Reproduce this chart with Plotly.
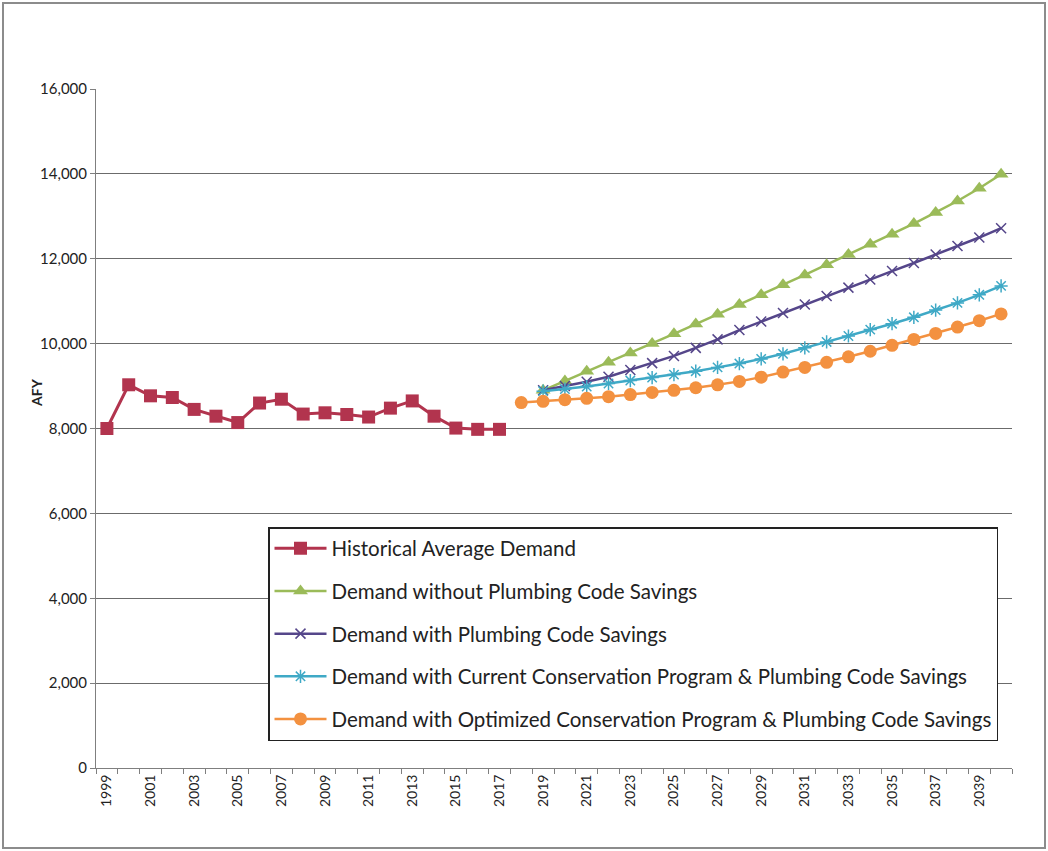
import plotly.graph_objects as go

# ---- data ----
hist_years = [1999, 2000, 2001, 2002, 2003, 2004, 2005, 2006, 2007, 2008,
              2009, 2010, 2011, 2012, 2013, 2014, 2015, 2016, 2017]
hist_vals = [8000, 9030, 8770, 8730, 8450, 8290, 8140, 8600, 8690, 8340,
             8370, 8330, 8270, 8480, 8650, 8290, 8010, 7980, 7980]

proj_years = [2019, 2020, 2021, 2022, 2023, 2024, 2025, 2026, 2027, 2028, 2029,
              2030, 2031, 2032, 2033, 2034, 2035, 2036, 2037, 2038, 2039, 2040]
no_plumbing = [8900, 9120, 9350, 9560, 9780, 10000, 10230, 10460, 10690, 10920, 11150,
               11390, 11620, 11860, 12100, 12340, 12580, 12830, 13090, 13360, 13660, 13990]
with_plumbing = [8900, 9000, 9100, 9220, 9380, 9540, 9710, 9900, 10100, 10320, 10520,
                 10720, 10920, 11120, 11320, 11510, 11710, 11900, 12100, 12300, 12500, 12720]
current_cons = [8880, 8930, 8990, 9060, 9130, 9200, 9270, 9350, 9440, 9530, 9640,
                9760, 9900, 10040, 10180, 10330, 10470, 10620, 10790, 10960, 11150, 11360]

opt_years = [2018, 2019, 2020, 2021, 2022, 2023, 2024, 2025, 2026, 2027, 2028, 2029,
             2030, 2031, 2032, 2033, 2034, 2035, 2036, 2037, 2038, 2039, 2040]
optimized = [8610, 8640, 8680, 8710, 8750, 8800, 8850, 8900, 8960, 9030, 9110, 9210,
             9330, 9440, 9560, 9690, 9820, 9960, 10100, 10240, 10390, 10540, 10700]

tick_years = list(range(1999, 2040, 2))
tick_labels = [str(y) for y in tick_years]
minor_ticks = [y + 0.5 for y in range(1998, 2041)]

names = ["Historical Average Demand",
         "Demand without Plumbing Code Savings",
         "Demand with Plumbing Code Savings",
         "Demand with Current Conservation Program & Plumbing Code Savings",
         "Demand with Optimized Conservation Program & Plumbing Code Savings"]

c_hist = "#B2344E"
c_green = "#9BBB59"
c_purple = "#55468A"
c_teal = "#3FA9C6"
c_orange = "#F39140"

fig = go.Figure()
fig.add_trace(go.Scatter(x=hist_years, y=hist_vals, name=names[0], legendgroup="a",
                         mode="lines+markers", line=dict(color=c_hist, width=3),
                         marker=dict(symbol="square", size=13, color=c_hist)))
fig.add_trace(go.Scatter(x=proj_years, y=no_plumbing, name=names[1], legendgroup="b",
                         mode="lines+markers", line=dict(color=c_green, width=2.5),
                         marker=dict(symbol="triangle-up", size=13, color=c_green)))
fig.add_trace(go.Scatter(x=proj_years, y=with_plumbing, name=names[2], legendgroup="c",
                         mode="lines+markers", line=dict(color=c_purple, width=2.5),
                         marker=dict(symbol="x-thin-open", size=10, color=c_purple,
                                     line=dict(color=c_purple, width=1.5))))
fig.add_trace(go.Scatter(x=proj_years, y=current_cons, name=names[3], legendgroup="d",
                         mode="lines+markers", line=dict(color=c_teal, width=2.5),
                         marker=dict(symbol="asterisk-open", size=11, color=c_teal,
                                     line=dict(color=c_teal, width=1.5))))
fig.add_trace(go.Scatter(x=opt_years, y=optimized, name=names[4], legendgroup="e",
                         mode="lines+markers", line=dict(color=c_orange, width=2.5),
                         marker=dict(symbol="circle", size=13, color=c_orange)))

font_family = "Lato, 'Open Sans', sans-serif"

fig.update_layout(
    width=1048, height=851,
    margin=dict(l=96, r=36, t=89, b=83),
    paper_bgcolor="white", plot_bgcolor="white",
    font=dict(family=font_family, color="#222222", size=14),
    showlegend=True,
    legend=dict(x=(268 - 96) / 916, y=(768 - 527) / 679, xanchor="left", yanchor="top",
                bgcolor="white", bordercolor="#222222", borderwidth=1.5,
                font=dict(size=20.5, family=font_family, color="#222222"),
                tracegroupgap=13, itemwidth=52, traceorder="grouped"),
    xaxis=dict(range=[1998.5, 2040.5], tickmode="array", tickvals=tick_years,
               ticktext=tick_labels, tickangle=-90, ticks="", showgrid=False,
               showline=True, linecolor="#7f7f7f", linewidth=1, zeroline=False,
               tickfont=dict(size=14),
               minor=dict(tickmode="array", tickvals=minor_ticks, ticks="outside",
                          ticklen=5, tickcolor="#7f7f7f", showgrid=False)),
    yaxis=dict(range=[0, 16000], dtick=2000, tickformat=",d", showgrid=True,
               gridcolor="#6b6b6b", gridwidth=1, showline=True, linecolor="#7f7f7f",
               linewidth=1, ticks="outside", ticklen=5, tickcolor="#7f7f7f",
               zeroline=False, tickfont=dict(size=15)),
    annotations=[dict(text="<b>AFY</b>", xref="paper", yref="y", x=0, y=8850,
                      xshift=-70, textangle=-90, showarrow=False,
                      font=dict(size=14, color="#222222"))],
    shapes=[dict(type="rect", xref="paper", yref="paper",
                 x0=(3 - 96) / 916, x1=(1045 - 96) / 916,
                 y0=(768 - 848) / 679, y1=(768 - 3) / 679,
                 line=dict(color="#8c8c8c", width=2), layer="below")],
)

fig.write_html("out.html")
